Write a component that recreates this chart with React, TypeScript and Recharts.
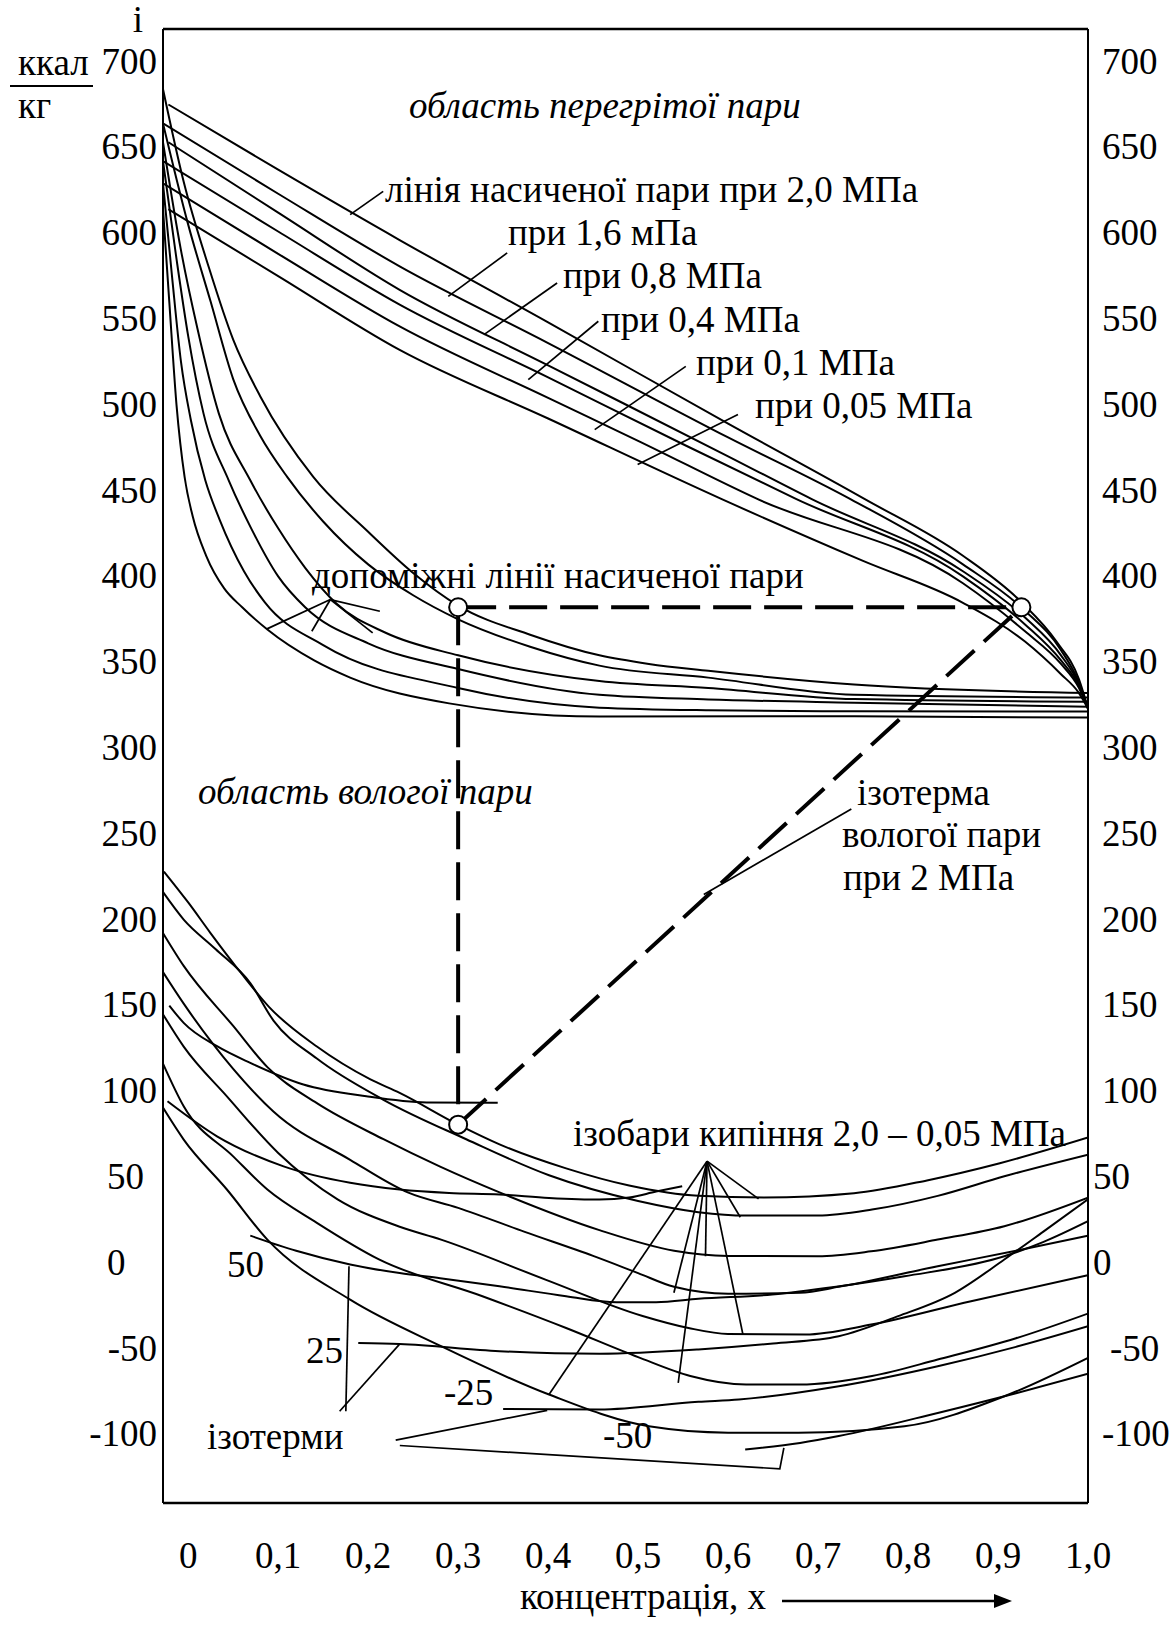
import React from "react";
import { LineChart, Line, XAxis, YAxis, ReferenceLine } from "recharts";

const FONT = "'Liberation Serif', 'Times New Roman', serif";
const X_MIN = -0.028;
const X_MAX = 1.0;
const Y_MIN = -140;
const Y_MAX = 719;

const xTicks = [0, 0.1, 0.2, 0.3, 0.4, 0.5, 0.6, 0.7, 0.8, 0.9, 1.0];
const yTicks = [-100, -50, 0, 50, 100, 150, 200, 250, 300, 350, 400, 450, 500, 550, 600, 650, 700];

// лінії насиченої пари (2,0 ... 0,05 МПа)
const sat20 = [[-0.022, 675], [0.1, 637], [0.235, 596], [0.4, 548], [0.6, 489], [0.752, 445], [0.861, 412], [0.926, 385], [0.965, 362], [0.99, 340], [1.0, 323]];
const sat16 = [[-0.028, 664], [0.1, 623], [0.235, 580.7], [0.4, 536], [0.6, 481], [0.736, 445], [0.861, 407], [0.93, 380], [0.97, 357], [0.99, 338], [1.0, 323]];
const sat08 = [[-0.022, 653], [0.1, 612], [0.235, 567], [0.4, 523], [0.6, 470], [0.693, 445], [0.861, 403], [0.93, 376], [0.97, 354], [0.99, 337], [1.0, 323]];
const sat04 = [[-0.028, 642], [0.1, 601], [0.235, 558.4], [0.4, 516], [0.55, 477], [0.676, 445], [0.861, 400], [0.93, 372], [0.97, 351], [0.99, 336], [1.0, 323]];
const sat01 = [[-0.028, 629], [0.1, 588], [0.235, 545.7], [0.4, 504], [0.5, 479], [0.633, 445], [0.861, 396], [0.93, 368], [0.97, 349], [0.99, 335], [1.0, 323]];
const sat005 = [[-0.022, 614], [0.1, 575], [0.235, 532], [0.4, 492], [0.593, 445], [0.75, 409], [0.861, 384.6], [0.93, 362], [0.97, 343], [0.99, 332], [1.0, 323]];

// допоміжні лінії насиченої пари
const aux1 = [[-0.028, 614], [-0.021, 560], [-0.013, 500], [-0.004, 458], [0.005, 435], [0.02, 412], [0.04, 393], [0.06, 382], [0.088, 369], [0.14, 351], [0.18, 341], [0.29, 326], [0.457, 318.3], [0.74, 318.5], [1.0, 317.7]];
const aux2 = [[-0.028, 629], [-0.018, 575], [-0.008, 525], [0.003, 491], [0.019, 456], [0.035, 433], [0.062, 403], [0.085, 385], [0.15, 360], [0.3, 335], [0.457, 323.5], [0.578, 322], [0.74, 321.4], [1.0, 321.2]];
const aux3 = [[-0.028, 642], [-0.013, 585], [0.0, 540], [0.017, 495], [0.045, 456], [0.07, 428], [0.1, 400], [0.13, 382], [0.2, 361], [0.3, 346], [0.457, 331], [0.578, 328.3], [0.74, 326.4], [1.0, 324.1]];
const aux4 = [[-0.028, 653], [-0.008, 590], [0.01, 545], [0.034, 495], [0.069, 456], [0.1, 428], [0.13, 405], [0.165, 384], [0.22, 367], [0.3, 354], [0.457, 339], [0.578, 335], [0.74, 328.5], [1.0, 327]];
const aux5 = [[-0.028, 664], [0.0, 605], [0.025, 560], [0.05, 515], [0.08, 482], [0.11, 458], [0.15, 432], [0.2, 407], [0.25, 389], [0.3, 375], [0.38, 359], [0.457, 348], [0.578, 341], [0.74, 331], [1.0, 329.4]];
const aux6 = [[-0.028, 684], [-0.005, 630], [0.023, 580], [0.05, 538], [0.08, 505], [0.139, 458], [0.2, 426], [0.25, 402], [0.3, 383], [0.38, 366], [0.457, 354], [0.512, 349], [0.578, 345], [0.74, 337], [1.0, 332]];

// ізобари кипіння
const boil1 = [[-0.027, 228], [0.0, 210], [0.025, 192], [0.06, 168], [0.09, 149], [0.143, 126], [0.202, 107], [0.235, 99], [0.3, 80.5], [0.346, 69], [0.42, 55], [0.49, 45], [0.567, 39], [0.64, 38], [0.74, 40.5], [0.821, 48], [0.902, 58], [1.0, 73]];
const boil2 = [[-0.03, 217.5], [-0.005, 200], [0.03, 183], [0.069, 163], [0.095, 141], [0.143, 119], [0.217, 95], [0.309, 72], [0.401, 51], [0.5, 36], [0.567, 29.5], [0.62, 27.5], [0.7, 27.5], [0.76, 31], [0.833, 39], [0.907, 50.4], [1.0, 63]];
const boil3 = [[-0.029, 193], [-0.005, 173], [0.05, 138], [0.088, 114], [0.143, 93], [0.217, 72], [0.28, 56], [0.346, 41], [0.457, 19], [0.54, 7], [0.6, 4], [0.7, 3.8], [0.759, 6.7], [0.833, 13.5], [0.907, 21.3], [1.0, 38]];
const boil4 = [[-0.03, 171], [-0.005, 151], [0.05, 113], [0.095, 88], [0.18, 60], [0.244, 41], [0.3, 32], [0.374, 18], [0.45, 4], [0.5, -6], [0.54, -14], [0.6, -18], [0.68, -17.5], [0.723, -14], [0.833, -2], [0.92, 7], [1.0, 15.8]];
const boil5 = [[-0.029, 145.6], [-0.005, 126], [0.043, 97], [0.1, 64], [0.166, 37], [0.235, 21], [0.281, 13.5], [0.397, -9.8], [0.505, -31], [0.556, -38], [0.6, -41.5], [0.686, -41.8], [0.759, -36], [0.87, -22.4], [1.0, -7.2]];
const boil6 = [[-0.03, 118.4], [-0.005, 91.2], [0.05, 62], [0.088, 42.7], [0.143, 23.3], [0.212, 2], [0.327, -19.5], [0.42, -38], [0.5, -55], [0.558, -66], [0.62, -71], [0.68, -71], [0.76, -66], [0.833, -56.4], [0.92, -44], [1.0, -29.6]];
const boil7 = [[-0.029, 91.2], [-0.005, 71.8], [0.043, 42.7], [0.088, 13.5], [0.18, -21.5], [0.281, -48.6], [0.401, -76.8], [0.512, -95.3], [0.6, -99], [0.678, -99.1], [0.796, -95.3], [0.907, -77.8], [1.0, -55.4]];

// ізотерми
const isoT1 = [[-0.021, 149.9], [-0.005, 139.8], [0.032, 126.2], [0.069, 116.5], [0.128, 103.9], [0.198, 97], [0.265, 93.4], [0.344, 93.2]];
const isoT2 = [[-0.023, 94.1], [0.032, 73.7], [0.106, 56.2], [0.18, 46.6], [0.235, 42.7], [0.29, 40.7], [0.346, 39.8], [0.401, 37.8], [0.457, 36.8], [0.49, 38], [0.52, 41.5], [0.549, 44.6]];
const iso50 = [[0.069, 15.8], [0.12, 7], [0.18, -1], [0.235, -6], [0.28, -9], [0.346, -13.7], [0.42, -19.5], [0.476, -23], [0.52, -23], [0.567, -21], [0.649, -18.5], [0.72, -14], [0.796, -7.9], [0.907, 3.8], [0.95, 12], [1.0, 24.2]];
const iso25 = [[0.189, -46.7], [0.235, -47.3], [0.346, -51.5], [0.457, -53], [0.567, -50.5], [0.65, -47], [0.723, -42.8], [0.789, -31.1], [0.852, -17.5], [0.907, 1.9], [0.95, 18], [1.0, 37]];
const isoM25 = [[0.35, -85.2], [0.457, -85.5], [0.567, -81], [0.612, -79.7], [0.723, -72], [0.833, -60.3], [0.92, -49], [1.0, -37]];
const isoM50 = [[0.619, -108.8], [0.68, -105], [0.723, -101], [0.833, -87.5], [0.92, -76], [1.0, -64.6]];

// виноски
const leaders = [
    [[0.18, 610.8], [0.2167, 624.4]],
    [[0.289, 563.2], [0.3545, 588.5]],
    [[0.3287, 540.9], [0.41, 571]],
    [[0.378, 514.7], [0.4558, 548.7]],
    [[0.4518, 485.5], [0.553, 522.4]],
    [[0.4995, 465.2], [0.611, 494.3]],
    [[0.0876, 369.4], [0.158, 386.5]],
    [[0.1374, 368], [0.158, 386.5]],
    [[0.158, 386.5], [0.213, 379.7]],
    [[0.158, 386.5], [0.205, 367.1]],
    [[0.573, 214.6], [0.737, 264.5]],
    [[0.5766, 59.2], [0.6339, 37.2]],
    [[0.5766, 59.2], [0.6136, 26.5]],
    [[0.5766, 59.2], [0.5749, 3.8]],
    [[0.5766, 59.2], [0.5398, -17.5]],
    [[0.5766, 59.2], [0.6165, -41.8]],
    [[0.5766, 59.2], [0.5446, -70]],
    [[0.5766, 59.2], [0.401, -76.8]],
    [[0.1787, -2], [0.1752, -86.5]],
    [[0.1683, -86.5], [0.2352, -47.3]],
    [[0.2306, -103.4], [0.399, -86]],
    [[0.2352, -106.5], [0.6575, -120.1], [0.662, -107.9]],
];

// ізотерма вологої пари при 2 МПа
const dashVert = [[0.3, 382], [0.3, 80.5]];
const dashHoriz = [[0.3, 382], [0.926, 382]];
const dashDiag = [[0.3, 80.5], [0.926, 382]];
const markers = [[0.3, 382], [0.926, 382], [0.3, 80.5]];

const curves = [
    sat20, sat16, sat08, sat04, sat01, sat005,
    aux1, aux2, aux3, aux4, aux5, aux6,
    boil1, boil2, boil3, boil4, boil5, boil6, boil7,
    isoT1, isoT2, iso50, iso25, isoM25, isoM50,
];

const toPts = (arr: number[][]) => arr.map(([x, y]) => ({ x, y }));

const fmtX = (v: number) => (v === 0 ? "0" : v.toFixed(1).replace(".", ","));

function LeftTick({ y, payload }: any) {
    const v = payload.value
    const atStart = v === 0 || v === 50
    return (
        <text x={atStart ? 107 : 157} y={y + 12} textAnchor={atStart ? "start" : "end"} fontFamily={FONT} fontSize={37} fill="#000">
            {v}
        </text>
    )
}

function RightTick({ y, payload }: any) {
    const v = payload.value
    const x = v === 0 || v === 50 ? 1093 : v === -50 ? 1110 : 1102
    return (
        <text x={x} y={y + 12} textAnchor="start" fontFamily={FONT} fontSize={37} fill="#000">
            {v}
        </text>
    )
}

function BottomTick({ x, payload }: any) {
    return (
        <text x={x} y={1568} textAnchor="middle" fontFamily={FONT} fontSize={37} fill="#000">
            {fmtX(payload.value)}
        </text>
    )
}

export default function App() {
    const txt = { fontFamily: FONT, fontSize: 37, fill: "#000" }
    return (
        <div style={{ position: "absolute", left: 0, top: 0, width: 1170, height: 1625, background: "#fff" }}>
            <LineChart width={1170} height={1625} margin={{ top: 29, right: 0, bottom: 0, left: 0 }}>
                <XAxis
                    dataKey="x"
                    type="number"
                    domain={[X_MIN, X_MAX]}
                    allowDataOverflow
                    ticks={xTicks}
                    interval={0}
                    height={122}
                    tickLine={false}
                    tickSize={0}
                    axisLine={{ stroke: "#000", strokeWidth: 2.5 }}
                    tick={(p: any) => <BottomTick {...p} />}
                />
                <YAxis
                    yAxisId="left"
                    type="number"
                    domain={[Y_MIN, Y_MAX]}
                    allowDataOverflow
                    ticks={yTicks}
                    interval={0}
                    width={163}
                    tickLine={false}
                    tickSize={0}
                    axisLine={{ stroke: "#000", strokeWidth: 2 }}
                    tick={(p: any) => <LeftTick {...p} />}
                />
                <YAxis
                    yAxisId="right"
                    orientation="right"
                    type="number"
                    domain={[Y_MIN, Y_MAX]}
                    allowDataOverflow
                    ticks={yTicks}
                    interval={0}
                    width={82}
                    tickLine={false}
                    tickSize={0}
                    axisLine={{ stroke: "#000", strokeWidth: 2 }}
                    tick={(p: any) => <RightTick {...p} />}
                />
                <ReferenceLine yAxisId="left" y={Y_MAX} stroke="#000" strokeWidth={2.5} />

                {curves.map((c, i) => (
                    <Line
                        key={"c" + i}
                        yAxisId="left"
                        data={toPts(c)}
                        dataKey="y"
                        type="monotone"
                        stroke="#000"
                        strokeWidth={2}
                        dot={false}
                        activeDot={false}
                        isAnimationActive={false}
                    />
                ))}
                {leaders.map((c, i) => (
                    <Line
                        key={"l" + i}
                        yAxisId="left"
                        data={toPts(c)}
                        dataKey="y"
                        type="linear"
                        stroke="#000"
                        strokeWidth={1.7}
                        dot={false}
                        activeDot={false}
                        isAnimationActive={false}
                    />
                ))}
                {[dashVert, dashHoriz, dashDiag].map((c, i) => (
                    <Line
                        key={"d" + i}
                        yAxisId="left"
                        data={toPts(c)}
                        dataKey="y"
                        type="linear"
                        stroke="#000"
                        strokeWidth={4}
                        strokeDasharray="38 13"
                        dot={false}
                        activeDot={false}
                        isAnimationActive={false}
                    />
                ))}
                <Line
                    yAxisId="left"
                    data={toPts(markers)}
                    dataKey="y"
                    type="linear"
                    stroke="none"
                    dot={{ r: 9, fill: "#fff", stroke: "#000", strokeWidth: 2 }}
                    activeDot={false}
                    isAnimationActive={false}
                />
            </LineChart>

            <svg width={1170} height={1625} style={{ position: "absolute", left: 0, top: 0, pointerEvents: "none" }}>
                <text x={138} y={32} textAnchor="middle" {...txt}>i</text>
                <text x={18} y={75} {...txt}>ккал</text>
                <line x1={10} y1={86} x2={93} y2={86} stroke="#000" strokeWidth={2} />
                <text x={18} y={118} {...txt}>кг</text>

                <text x={409} y={118} {...txt} fontStyle="italic">область перегрітої пари</text>
                <text x={385} y={202} {...txt}>лінія насиченої пари при 2,0 МПа</text>
                <text x={508} y={245} {...txt}>при 1,6 мПа</text>
                <text x={563} y={288} {...txt}>при 0,8 МПа</text>
                <text x={601} y={332} {...txt}>при 0,4 МПа</text>
                <text x={696} y={375} {...txt}>при 0,1 МПа</text>
                <text x={755} y={418} {...txt}>при 0,05 МПа</text>
                <text x={312} y={588} {...txt}>допоміжні лінії насиченої пари</text>

                <text x={198} y={804} {...txt} fontStyle="italic">область вологої пари</text>
                <text x={857} y={805} {...txt}>ізотерма</text>
                <text x={842} y={847} {...txt}>вологої пари</text>
                <text x={843} y={890} {...txt}>при 2 МПа</text>

                <text x={573} y={1146} {...txt}>ізобари кипіння 2,0 – 0,05 МПа</text>
                <text x={227} y={1277} {...txt}>50</text>
                <text x={306} y={1363} {...txt}>25</text>
                <text x={444} y={1405} {...txt}>-25</text>
                <text x={603} y={1448} {...txt}>-50</text>
                <text x={207} y={1449} {...txt}>ізотерми</text>

                <text x={520} y={1609} {...txt}>концентрація, х</text>
                <line x1={782} y1={1601} x2={996} y2={1601} stroke="#000" strokeWidth={2.5} />
                <polygon points="994,1594 1012,1601 994,1608" fill="#000" />
            </svg>
        </div>
    )
}
